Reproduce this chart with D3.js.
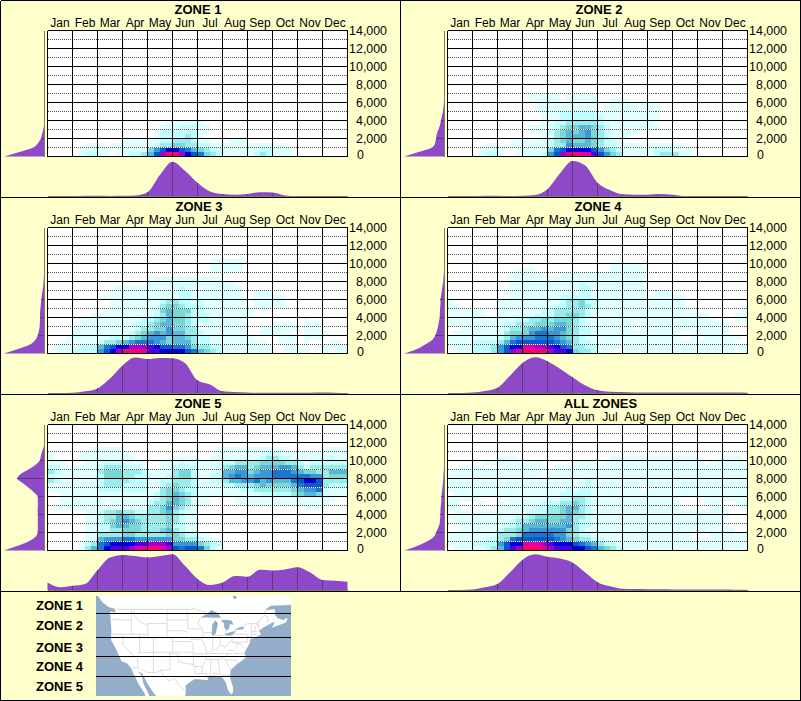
<!DOCTYPE html>
<html><head><meta charset="utf-8">
<script src="https://cdnjs.cloudflare.com/ajax/libs/d3/7.8.5/d3.min.js"></script>
<style>html,body{margin:0;padding:0;background:#ffffcc}svg{display:block}text{font-family:"Liberation Sans",Arial,sans-serif;fill:#000}</style>
</head><body><svg id="c" width="801" height="701"></svg>
<script>
const months=["Jan","Feb","Mar","Apr","May","Jun","Jul","Aug","Sep","Oct","Nov","Dec"];
const altTicks=[0,2000,4000,6000,8000,10000,12000,14000];
const altMinor=[1000,3000,5000,7000,9000,11000,13000];
const zoneNames=["ZONE 1","ZONE 2","ZONE 3","ZONE 4","ZONE 5","ALL ZONES"];
const legendNames=["ZONE 1","ZONE 2","ZONE 3","ZONE 4","ZONE 5"];
const levelColors=["#ffffff","#e0ffff","#c0ffff","#98ecec","#78d8d8","#58b8d8","#3898d8","#1878d0","#0858d0","#0000e0","#5000e0","#a000d0","#e000a0","#ff0070"];
// heat levels, one string per 500 ft band from the ground up, one group per month
const heatZone1=[
"0000 0122 1101 1223 58bd db98 7432 1111 1232 1110 0000 0000",
"0000 0111 1101 1111 4689 9875 4322 1111 1122 1110 0000 0000",
"0000 0011 1011 1111 1233 4433 2211 1111 1111 1100 0000 0000",
"0000 0000 0000 1111 1122 3332 1100 0111 0000 0000 0000 0000",
"0000 0000 0000 0000 0122 2232 1000 0000 0000 0000 0000 0000",
"0000 0000 0000 0000 0122 2222 1100 0000 0000 0000 0000 0000",
"0000 0000 0000 0000 0011 1222 1100 0000 0000 0000 0000 0000",
"0000 0000 0000 0000 0001 1111 1000 0000 0000 0000 0000 0000"];
const heatZone2=[
"0000 0122 1001 1112 68bc dcca 8643 1111 1233 3110 0000 0000",
"0000 0111 1001 1111 4789 9998 6432 1111 1222 1110 0000 0000",
"0000 0011 0011 1111 2336 5554 3221 1111 1111 1100 0000 0000",
"0000 0000 0011 1111 2345 4454 3221 0000 0000 0000 0000 0000",
"0000 0000 0000 0001 1345 5564 3211 1000 0000 0000 0000 0000",
"0000 0000 0000 0111 2345 4564 3211 1110 0000 0000 0000 0000",
"0000 0000 0000 0111 1234 4554 3211 1111 1100 0000 0000 0000",
"0000 0000 0000 0001 1223 3333 2111 1111 1000 0000 0000 0000",
"0000 0000 0000 0001 1122 2222 2111 1111 1100 0000 0000 0000",
"0000 0000 0000 0001 1122 2222 1111 1111 1100 0000 0000 0000",
"0000 0000 0000 0011 1111 1111 0111 1111 1100 0000 0000 0000",
"0000 0000 0000 0011 1111 1111 0111 1111 1100 0000 0000 0000",
"0000 0000 0000 0111 1101 1111 0011 1000 0000 0000 0000 0000",
"0000 0000 0000 0111 1101 1111 0000 0000 0000 0000 0000 0000"];
const heatZone3=[
"0111 2222 689b dddc aa99 9987 5432 1111 1111 0011 1100 1011",
"0111 1222 5789 9bbb a988 7764 3322 1111 1111 0011 0001 1111",
"0011 1111 2334 5677 7654 5553 2211 1111 1110 0111 0100 0110",
"0001 1111 1122 2345 6664 5543 2211 1111 1000 0111 0111 0000",
"0000 1111 1111 1234 5656 5533 2111 1111 0011 1110 0111 1000",
"0000 1111 1111 1123 3446 4433 1111 1111 0011 1111 0111 0000",
"0000 0111 1111 1122 3455 4432 1111 1111 0000 1110 0111 0000",
"0000 0111 1111 1112 2345 4432 2211 1110 0000 0000 0100 0000",
"0000 0001 1111 1111 1235 4432 2211 1111 1000 0000 0000 0000",
"0000 0000 0111 1111 1245 4442 2111 1111 1010 0000 0000 0000",
"0000 0000 0011 1111 1134 4322 2111 1111 0111 1100 0000 0000",
"0000 0000 0011 1111 1123 3221 2111 1111 0111 1100 0000 0000",
"0000 0000 0111 1111 1111 1221 1111 1110 0111 1100 0000 0000",
"0000 0000 0011 1111 1111 1221 1111 1110 0111 0000 0000 0000",
"0000 0000 0001 1111 1111 1211 1111 1110 0000 0000 0000 0000",
"0000 0000 0000 0000 1111 1111 1111 1100 0000 0000 0000 0000",
"0000 0000 0000 0000 1111 1111 1111 0000 0000 0000 0000 0000",
"0000 0000 0000 0000 0000 0000 0000 0000 0000 0000 0000 0000",
"0000 0000 0000 0000 0000 0000 0011 1110 0000 0000 0000 0000",
"0000 0000 0000 0000 0000 0000 0011 1110 0000 0000 0000 0000",
"0000 0000 0000 0000 0000 0000 0011 1110 0000 0000 0000 0000"];
const heatZone4=[
"0111 2223 68bc dddd baa9 4332 1100 1111 1111 1111 1111 1101",
"1111 2223 6899 ccbb a987 3322 1111 1111 1111 1111 1111 1111",
"1111 2222 3578 8888 8765 3221 1111 1111 1111 1111 1111 1100",
"1111 1111 2356 6677 7654 3211 1111 1111 1111 1001 0111 1110",
"0111 1111 1344 4677 6654 3221 1111 1111 1111 1001 1111 1000",
"0011 1111 1233 4556 5664 3221 1111 1101 1111 1111 1111 1000",
"1111 1111 1223 3344 4554 3211 1111 1101 1111 1111 1111 1000",
"1111 1111 1112 2334 3444 3211 1111 1111 1111 1111 1110 0011",
"1111 1100 1111 1122 2334 4321 1111 1111 1111 1111 1100 0011",
"1111 1100 1111 1112 2333 3321 1111 1111 1111 1110 0000 0001",
"1100 0000 1111 1111 1223 3432 1111 1111 1111 1100 0000 0000",
"1000 0000 1111 1111 1123 3422 1111 1111 1111 1100 0000 0000",
"0000 0000 0011 1111 1122 2221 1111 1111 1111 1100 0000 0000",
"0000 0000 0111 1111 1111 1221 1111 1111 0111 0000 0000 0000",
"0000 0000 0011 1111 1111 1221 1111 1111 0000 0000 0000 0000",
"0000 0000 0011 1111 1111 1211 1111 1110 0000 0000 0000 0000",
"0000 0000 0011 1110 1111 1111 1111 1110 0000 0000 0000 0000",
"0000 0000 0011 1111 0011 1111 1111 1111 0000 0000 0000 0000",
"0000 0000 0001 1100 0000 0000 0011 1111 0000 0000 0000 0000",
"0000 0000 0000 0000 0000 0000 0011 1110 0000 0000 0000 0000"];
const heatZone5=[
"0000 0135 79aa abcc ddcb 8788 7421 0000 0000 0000 0000 0000",
"0000 0123 7899 99aa bbba 6666 4322 0000 0000 0000 0000 0000",
"0000 0011 5666 7766 6666 4433 2110 0000 0000 0000 0000 0000",
"0000 0011 3333 4433 3334 4322 1100 0000 0000 0000 0000 0000",
"0000 0011 2233 4443 3345 3211 0000 0000 0000 0000 0000 0000",
"0000 0011 2245 5443 3334 2211 0000 0000 0000 0000 0000 0000",
"0000 0011 2345 6543 3334 3211 0000 0000 0000 0000 0000 0000",
"0000 0011 2335 5433 3334 3211 0000 0000 0000 0000 0000 0000",
"0000 0011 2334 3322 3345 3211 0000 0000 0000 0000 0000 0000",
"0111 1111 1111 1111 3346 4321 0000 0000 0000 0000 0111 0000",
"0011 1111 1011 1111 2335 5431 1100 0011 1111 1111 1111 1000",
"0011 1111 1111 1111 1234 5431 1100 0011 1111 1111 1111 1100",
"0011 1111 1111 1111 1234 5432 1111 1111 1122 2223 4554 1111",
"1111 1111 2222 2222 1134 4322 1111 1112 2333 3334 5667 2111",
"1111 1111 2333 2222 1123 4332 1111 2233 3454 4445 7888 3222",
"3211 1111 2333 3222 1122 3332 1122 3556 6756 5557 8998 3333",
"2111 1111 2444 3322 1112 3442 1122 5676 5666 7777 7766 3444",
"3211 1111 3444 3332 1111 3442 1112 5566 4566 7776 5443 3555",
"2211 1111 2333 2221 0011 2222 1112 3455 3455 5665 3233 3333",
"1110 0011 1222 1111 0011 1211 1111 2233 3344 4433 2122 2222",
"1000 0111 1111 1100 0000 1111 0011 1111 1123 3221 1111 1211",
"1000 0111 1111 1000 0000 0000 0001 1111 1112 2111 1111 1111",
"0000 0001 1111 0000 0000 0000 0001 1111 1111 1100 0000 1111"];
const heatAll=[
"0111 1123 58ab dddc baaa 9987 5432 1111 1111 1111 1111 1111",
"1111 2222 6899 cccb a999 8765 3221 1111 1111 1111 1111 1111",
"1111 1122 3478 8888 8765 4332 2111 1111 1111 1111 1111 1111",
"1111 1111 3334 7777 7664 3221 1111 1111 1111 1110 0011 1111",
"0011 1111 2334 5666 6664 3211 1111 1111 1111 1111 1111 1100",
"0011 1111 1223 5555 5556 3221 1111 1111 1111 1111 1111 1000",
"0111 1111 1123 3455 4455 3221 1111 1111 1111 1111 1111 0000",
"1111 1111 1112 2344 4445 3321 1111 1111 1111 1111 1111 1000",
"0111 1111 1111 1222 3345 4321 1111 1111 1111 1111 1111 1000",
"1100 0000 1111 1122 3345 5321 1111 1111 1111 1000 0011 0001",
"1100 0100 1011 1112 2233 4321 1111 1111 1111 1000 0111 0011",
"1111 1000 0111 1111 1122 3321 1111 1111 1111 1000 0111 1111",
"0111 1111 1111 1111 1122 2221 1111 1111 1111 1111 1111 1111",
"1111 1111 1111 1111 1112 1221 1111 1110 1111 1111 1111 1111",
"1111 1111 1111 1111 1111 1121 1111 1111 1111 1111 1111 1111",
"1111 1111 1111 1111 1111 1121 1111 1111 1111 1111 1111 1111",
"1111 1111 1111 1110 1111 1111 1111 1111 1111 1111 1111 1111",
"1111 1111 1111 1110 1111 1111 1111 1111 1111 1111 1111 1111",
"0011 1100 1111 1111 0111 1111 1111 1111 1111 1111 1111 1111",
"0000 0011 1111 1110 0000 1111 0111 1111 1111 1111 1011 1111",
"0000 0000 1110 0000 0000 0000 0011 1111 1111 1111 0000 1110"];
// month profile, every half month, percent of panel peak
const monthZone1=[0.5,0.5,1,2,2,1.5,2,3,12,60,96,71,38,14,7,5,7,12,11,3,1,0.5,0.5,0.5,0.5];
const monthZone2=[0.5,0.5,0.5,2,2,1,2,4,20,64,98,86,38,18,6,5,5,7,5,1,0.5,0.5,0.5,0.5,0.5];
const monthZone3=[0.5,1,2,6,14,41,77,99,95,98,97,84,36,25,6,4,3,2,2,2,2,2,2.5,2,1];
const monthZone4=[0.5,1,2.5,7,16,49,84,100,89,68,45,23,9,5,4,3,2.5,2.5,2.5,2.5,2.5,2.5,3,2.5,2];
const monthZone5=[22,9,13,18,56,91,98,95,91,95,100,68,32,15,22,40,38,57,55,58,64,50,29,27,24];
const monthAll=[0.5,1.5,3,9,18,50,85,100,93,88,77,50,23,12,5,4,3.5,3.5,3,3,2.5,2.5,2.5,2,2];
// altitude profile, every 500 ft from the ground up, percent of panel peak
const altZone1=[100,62,28,16,9,6,3,1,0.5,0];
const altZone2=[100,64,31,23,21,19,15,11,9,6,4,2.5,1.5,1,0.5,0];
const altZone3=[100,66,36,23,17,14,12,11.5,11,11,10,9,8,6.5,5,3,2.5,1.5,1,0.7,0.5,0];
const altZone4=[100,68,48,31,23,19,16,14,12,11.5,11,10,10,8,6.5,5,3,2.5,1.5,1,0.5,0];
const altZone5=[100,68,40,23,17,16.5,16.5,16.5,16.5,17,16.5,16.5,17,27,40,54,67,59,40,23,12,9,6,2,0.5,0];
const altAll=[100,68,44,27,21,16,12,11,10,10,9,8,7.5,6.5,5,4,3,2.5,1.5,1,0.7,0.3,0];
// map outlines in lon/lat
const mapLand=[[-131,53.5],[-129,52.7],[-127.5,51],[-125,49.6],[-123.2,49.2],[-122.6,48.1],[-124.7,48.4],[-124.5,46.5],[-124.2,43],[-124.3,40.4],[-122.5,37.8],[-120.6,34.5],[-118.4,33.8],[-117.1,32.5],[-115.8,30.3],[-114.3,28],[-112.2,25.5],[-111.5,24],[-110,24],[-111,25.8],[-112.5,28],[-113.3,30.5],[-114.7,31.7],[-113,31],[-111,28],[-109,25.6],[-107,24],[-97.7,24],[-97.2,26],[-97.4,27.5],[-96,28.5],[-94,29.5],[-91,29.3],[-89.2,29.2],[-89.5,30.3],[-86,30.4],[-84,29.9],[-82.8,28.5],[-82,26.5],[-81,25.2],[-80.2,25.6],[-80.1,27],[-81.3,30],[-81,32],[-79,33.5],[-76.6,34.8],[-75.6,35.5],[-76,37],[-75.2,38],[-74,39.7],[-74,40.6],[-72,41],[-70.7,41.7],[-70,42],[-70.8,43],[-69,44],[-67,44.8],[-66,45.2],[-65,45.6],[-66,43.8],[-63.5,44.6],[-61,45.3],[-60.3,46.6],[-62,46],[-64,46.5],[-65,47.5],[-65,49],[-68,48.8],[-69.5,47.5],[-68,49.2],[-66.5,50],[-60,50.2],[-58,50.6],[-58,54],[-131,54]];
const mapLakes=[
[[-92,46.7],[-89,48],[-88,48.8],[-85.5,47.9],[-84.6,46.6],[-87,46.6],[-90,46.7]],
[[-87.9,42],[-87.4,41.6],[-86.4,42.3],[-85.6,45],[-86.5,45.9],[-87.6,44.8]],
[[-84.6,45.9],[-83.4,45.1],[-83.4,44],[-82.5,43.1],[-81.7,43.5],[-81.2,44.9],[-80,44.6],[-80.6,45.8],[-82.5,46.1]],
[[-83.3,41.7],[-81,41.6],[-78.9,42.8],[-80.5,42.7],[-82.5,42.2]],
[[-79.7,43.3],[-76.3,43.4],[-76.4,44.2],[-78,43.9]],
[[-80.8,53.5],[-79.8,51.8],[-78.9,52],[-79,53.5]]];
const mapBorders=[
[[-123,49],[-95,49],[-95,49.3],[-89.5,48]],[[-84.5,46.5],[-82.5,45],[-82.4,43],[-83.2,42],[-79,43],[-76.5,44],[-75,45],[-71.5,45],[-70,46.5],[-69,47.3],[-67.8,47],[-67.5,45.2]],
[[-117.1,32.5],[-114.7,32.7],[-111,31.3],[-108.2,31.3],[-106.5,31.8],[-104.5,29.6],[-103,29],[-101.5,29.8],[-99.5,27.5],[-97.2,25.9]],
[[-124,46.2],[-119,46],[-117,46]],[[-117,49],[-117,42]],[[-124.2,42],[-111,42]],[[-120,42],[-120,39],[-114.7,35],[-114.7,32.7]],[[-114,42],[-114,37]],[[-114.7,36.9],[-94.6,37]],
[[-116,49],[-116,47.5],[-114,45.5],[-111,44.5]],[[-111,45],[-104,45],[-104,41],[-111,41],[-111,45]],[[-104,49],[-104,45]],[[-104,46],[-96.5,46]],[[-104,43],[-98,43],[-96.5,42.5]],[[-104,41],[-102,41],[-102,40],[-95.3,40]],
[[-109,41],[-109,31.3]],[[-102,40],[-102,37]],[[-103,37],[-103,32],[-106.6,32]],[[-103,36.5],[-100,36.5],[-100,34.5],[-97,33.8],[-94.5,33.6]],
[[-97,49],[-96.5,46],[-96.5,43.5],[-91.2,43.5]],[[-92,46.7],[-92.8,45],[-91.2,43.5],[-91,40.6]],[[-95.7,40.6],[-91.4,40.6]],[[-95.3,40],[-94.6,39],[-94.6,36.5],[-89.5,36.5],[-90.2,38.5],[-91.4,40.4]],[[-94.5,36.5],[-94.5,33],[-91.2,33],[-90,35],[-89.7,36]],[[-94,33],[-93.8,31],[-89.7,31],[-89.6,30.2]],[[-91.2,33],[-91.5,31]],
[[-88.2,35],[-88.4,30.3]],[[-90,35],[-84.3,35],[-81.7,36.5]],[[-89.5,36.6],[-75.9,36.6]],[[-85.6,35],[-85,32],[-85,31],[-87.5,31],[-87.5,30.3]],[[-85,30.7],[-82,30.5],[-81.5,30.7]],[[-83.1,35],[-81,32]],[[-83.1,35],[-79,34.7],[-78.5,33.9]],
[[-90.6,42.5],[-87.8,42.5]],[[-87.5,41.7],[-87.5,38],[-88,37.8]],[[-84.8,41.7],[-84.8,39]],[[-89,37],[-86,38],[-84.8,39],[-82.6,38.5],[-80.6,40.6],[-80.5,42]],[[-87,41.7],[-83.5,41.7]],[[-80.5,42],[-75,42],[-75,39.8],[-80.5,39.7],[-80.5,40.6]],[[-82,37.5],[-80,37.5],[-78,39.5]],[[-79.5,39.7],[-77,39],[-76,38]],
[[-73.4,45],[-73.5,41.2]],[[-73.5,42],[-71.8,42],[-71.8,41.3]],[[-73.3,42.7],[-71.3,42.7]],[[-72.5,42.7],[-71.5,45]],[[-71,45.3],[-70.8,43.1]]];
const zoneLats=[47.9,41.2,35.7,30.2];
const titleCenters=[198,199,199,198,198,200.5];

const heats=[heatZone1,heatZone2,heatZone3,heatZone4,heatZone5,heatAll];
const monthProfiles=[monthZone1,monthZone2,monthZone3,monthZone4,monthZone5,monthAll];
const altProfiles=[altZone1,altZone2,altZone3,altZone4,altZone5,altAll];

const svg=d3.select("#c");
svg.append("rect").attr("width",801).attr("height",701).attr("fill","#ffffcc");

const x=d3.scaleLinear().domain([0,12]).range([47.5,347.5]);
const band=d3.scaleBand().domain(months).range([47.5,347.5]);
const y=d3.scaleLinear().domain([0,14000]).range([156.5,30.5]);
const color=d3.scaleOrdinal().domain(d3.range(levelColors.length)).range(levelColors);
const bottomH=d3.scaleLinear().domain([0,100]).range([196.5,160.2]);
const leftW=d3.scaleLinear().domain([0,100]).range([44.5,4]);
const purple="#8e49c9", tickPurple="#5d3a80", edge="#7f7f68";

zoneNames.forEach((name,i)=>{
  const g=svg.append("g").attr("transform",`translate(${i%2*400},${Math.floor(i/2)*197})`);
  g.append("text").attr("x",titleCenters[i]).attr("y",14).attr("text-anchor","middle").attr("font-weight","bold").attr("font-size",13).text(name);
  // heat cells
  const cells=[];
  heats[i].forEach((row,r)=>{row.replace(/ /g,"").split("").forEach((c,m)=>{const v=parseInt(c,16);if(v>0)cells.push({r,m,v});});});
  g.append("rect").attr("x",x(0)).attr("y",y(14000)).attr("width",x(12)-x(0)).attr("height",y(0)-y(14000)).attr("fill","#fff");
  g.append("g").attr("shape-rendering","crispEdges").selectAll("rect").data(cells).join("rect")
    .attr("x",d=>x(d.m/4)).attr("width",x(.25)-x(0)+.4)
    .attr("y",d=>y((d.r+1)*500)).attr("height",y(0)-y(500)+.4)
    .attr("fill",d=>color(d.v));
  // grid
  const grid=g.append("g").attr("shape-rendering","crispEdges");
  altMinor.forEach(a=>{
    grid.append("line").attr("x1",x(0)).attr("x2",x(12)).attr("y1",y(a)).attr("y2",y(a)).attr("stroke","#fff").attr("stroke-dasharray","1,1").attr("stroke-dashoffset",1);
    grid.append("line").attr("x1",x(0)).attr("x2",x(12)).attr("y1",y(a)).attr("y2",y(a)).attr("stroke","#555").attr("stroke-dasharray","1,1");
  });
  altTicks.forEach(a=>grid.append("line").attr("x1",x(0)).attr("x2",x(12)).attr("y1",y(a)).attr("y2",y(a)).attr("stroke","#000"));
  d3.range(13).forEach(m=>grid.append("line").attr("x1",x(m)).attr("x2",x(m)).attr("y1",y(14000)).attr("y2",y(0)).attr("stroke","#000"));
  // axes
  const top=g.append("g").attr("transform","translate(0,30)").call(d3.axisTop(band).tickSize(0).tickPadding(3));
  top.select(".domain").remove();
  top.selectAll("text").style("font-size","12px").style("font-family",'"Liberation Sans",Arial,sans-serif');
  const right=g.append("g").call(d3.axisRight(y).tickValues(altTicks).tickFormat(d3.format(",")).tickSize(0));
  right.select(".domain").remove();
  right.selectAll("text").style("font-size","12.4px").style("font-family",'"Liberation Sans",Arial,sans-serif')
    .attr("text-anchor",d=>d==0?"start":"end").attr("x",d=>d==0?357:387).attr("dy",d=>d==0?"0.2em":"0.32em");
  // month profile
  const mp=monthProfiles[i];
  const area=d3.area().x((d,k)=>x(k/2)).y0(bottomH(0)).y1(d=>bottomH(d)).curve(d3.curveMonotoneX);
  g.append("path").attr("d",area(mp)).attr("fill",purple);
  d3.range(1,12).forEach(m=>{ if(mp[m*2]>4) g.append("line").attr("x1",x(m)).attr("x2",x(m)).attr("y1",bottomH(0)).attr("y2",bottomH(mp[m*2])).attr("stroke",tickPurple).attr("shape-rendering","crispEdges");});
  g.append("line").attr("x1",x(0)).attr("x2",x(12)).attr("y1",196.5).attr("y2",196.5).attr("stroke",edge).attr("shape-rendering","crispEdges");
  // altitude profile
  const ap=altProfiles[i];
  const aArea=d3.area().y((d,k)=>y(k*500)).x0(leftW(0)).x1(d=>leftW(d)).curve(d3.curveMonotoneY);
  g.append("path").attr("d",aArea(ap)).attr("fill",purple);
  altTicks.forEach(a=>{const v=ap[a/500]; if(a>0&&v>4) g.append("line").attr("x1",leftW(0)).attr("x2",leftW(v)).attr("y1",y(a)).attr("y2",y(a)).attr("stroke",tickPurple).attr("shape-rendering","crispEdges");});
  g.append("line").attr("x1",44.5).attr("x2",44.5).attr("y1",y(14000)).attr("y2",y(0)).attr("stroke",edge).attr("shape-rendering","crispEdges");
});

// frame
const frame=svg.append("g").attr("stroke","#000").attr("shape-rendering","crispEdges");
[[0.5,0.5,800.5,0.5],[0.5,700.5,800.5,700.5],[0.5,0.5,0.5,700.5],[800.5,0.5,800.5,700.5],[400.5,0.5,400.5,591.5],[0.5,197.5,800.5,197.5],[0.5,394.5,800.5,394.5],[0.5,591.5,800.5,591.5]]
 .forEach(l=>frame.append("line").attr("x1",l[0]).attr("y1",l[1]).attr("x2",l[2]).attr("y2",l[3]));

// legend + map
const legendY=[610,630,651.5,671,691];
legendNames.forEach((n,i)=>svg.append("text").attr("x",83).attr("y",legendY[i]).attr("text-anchor","end").attr("font-weight","bold").attr("font-size",13).text(n));
const lon=d3.scaleLinear().domain([-124.7,-81]).range([110,230.7]);
const lat=d3.scaleLinear().domain([49,25]).range([609.3,695]);
const mapLine=d3.line().x(d=>lon(d[0])).y(d=>lat(d[1]));
const defs=svg.append("defs");
defs.append("clipPath").attr("id","mapclip").append("rect").attr("x",96).attr("y",596).attr("width",195).attr("height",100);
const map=svg.append("g").attr("clip-path","url(#mapclip)");
map.append("rect").attr("x",96).attr("y",596).attr("width",195).attr("height",100).attr("fill","#94aec9");
map.append("path").attr("d",mapLine(mapLand)+"Z").attr("fill","#fff");
map.selectAll(".b").data(mapBorders).join("path").attr("class","b").attr("d",d=>mapLine(d)).attr("fill","none").attr("stroke","#d4d4d4").attr("stroke-width",.8);
map.selectAll(".l").data(mapLakes).join("path").attr("class","l").attr("d",d=>mapLine(d)+"Z").attr("fill","#94aec9");
map.selectAll(".z").data(zoneLats).join("line").attr("class","z").attr("x1",96).attr("x2",291).attr("y1",d=>Math.floor(lat(d))+.5).attr("y2",d=>Math.floor(lat(d))+.5).attr("stroke","#000").attr("shape-rendering","crispEdges");
</script></body></html>
